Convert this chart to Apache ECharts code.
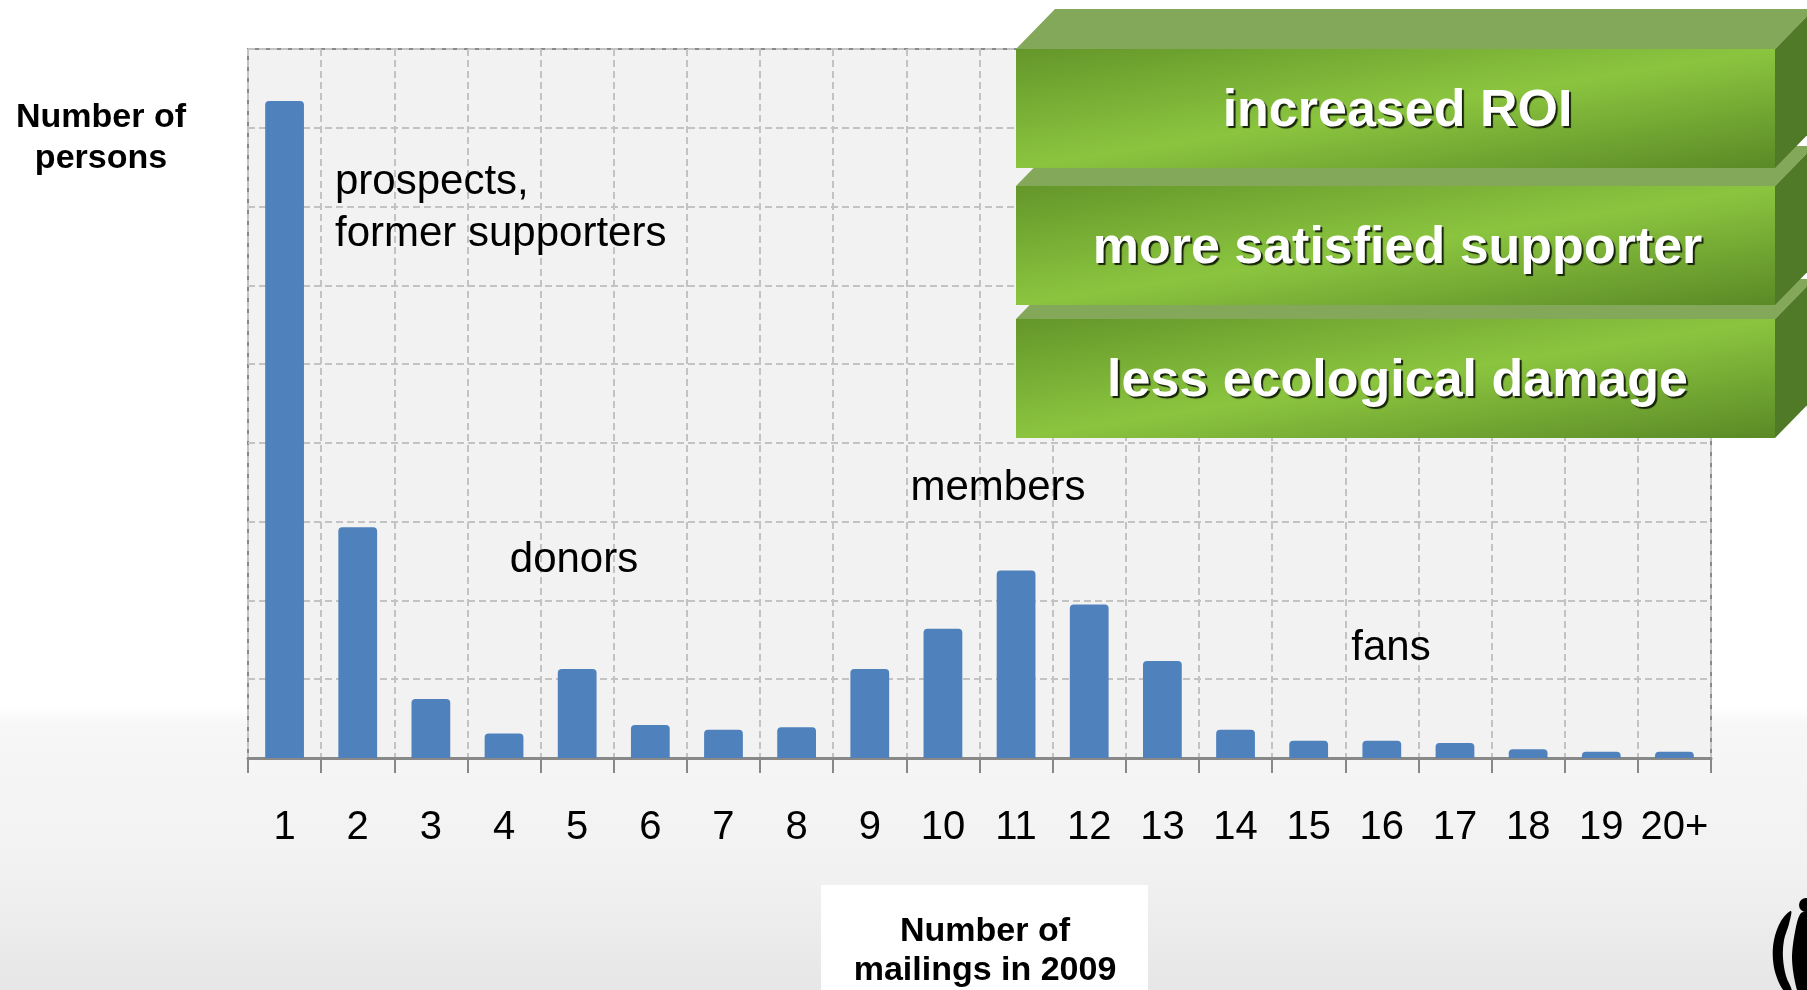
<!DOCTYPE html>
<html>
<head>
<meta charset="utf-8">
<title>Number of persons by number of mailings in 2009</title>
<script src="https://cdn.jsdelivr.net/npm/echarts@6/dist/echarts.min.js"></script>
<style>
  html, body { margin: 0; padding: 0; background: #ffffff; }
  #chart { width: 1807px; height: 990px; }
</style>
</head>
<body>
<div id="chart"></div>
<script>
// Mailings received per person in 2009 (x) and how many persons got that many (y)
const mailings = ['1', '2', '3', '4', '5', '6', '7', '8', '9', '10',
                  '11', '12', '13', '14', '15', '16', '17', '18', '19', '20+'];
const persons = [834, 293, 75, 31, 113, 42, 36, 39, 113, 164,
                 238, 195, 123, 36, 22, 22, 19, 11, 8, 8];

// Value axis: nine gridded steps, no printed numbers
const yMin = 0;
const yMax = 900;
const yStep = 100;

// Segment names written inside the plot
const segmentNames = ['prospects,\nformer supporters', 'donors', 'members', 'fans'];

// Benefits stacked in the upper right
const benefits = ['increased ROI', 'more satisfied supporter', 'less ecological damage'];

const yTitle = 'Number of\npersons';
const xTitle = 'Number of\nmailings in 2009';

const FONT = '"Liberation Sans", Arial, sans-serif';

const chart = echarts.init(document.getElementById('chart'), null, { renderer: 'canvas' });

// --- stacked 3D boxes -------------------------------------------------------
const BOX_LEFT = 1016, BOX_RIGHT = 1775, DX = 39, DY = 40;
const boxTops = [49, 186, 319];
const boxHeight = 119;

// Shading runs across the front face so that the bright band joins the
// bottom-left and top-right corners, darker toward the other two corners.
function frontShade(top) {
  const w = BOX_RIGHT - BOX_LEFT, h = boxHeight;
  const len = Math.sqrt(w * w + h * h);
  const ux = h / len, uy = w / len;
  const span = 2 * w * h / len;
  return new echarts.graphic.LinearGradient(
    BOX_LEFT, top, BOX_LEFT + ux * span, top + uy * span, [
      { offset: 0, color: '#64962a' },
      { offset: 0.5, color: '#8bc53f' },
      { offset: 1, color: '#5a8926' }
    ], true);
}

function boxElements(i) {
  const top = boxTops[i];
  const bottom = top + boxHeight;
  const z = 100 + (boxTops.length - i) * 4;
  return [
    { type: 'polygon', z: z, silent: true,
      shape: { points: [[BOX_LEFT, top], [BOX_LEFT + DX, top - DY], [BOX_RIGHT + DX, top - DY], [BOX_RIGHT, top]] },
      style: { fill: '#84a85a' } },
    { type: 'polygon', z: z + 1, silent: true,
      shape: { points: [[BOX_RIGHT, top], [BOX_RIGHT + DX, top - DY], [BOX_RIGHT + DX, bottom - DY], [BOX_RIGHT, bottom]] },
      style: { fill: '#517a28' } },
    { type: 'rect', z: z + 2, silent: true,
      shape: { x: BOX_LEFT, y: top, width: BOX_RIGHT - BOX_LEFT, height: boxHeight },
      style: { fill: frontShade(top) } },
    { type: 'text', z: z + 3, silent: true,
      x: (BOX_LEFT + BOX_RIGHT) / 2 + 2, y: top + boxHeight / 2 + 3,
      style: {
        text: benefits[i], fill: '#ffffff', font: 'bold 52px ' + FONT,
        align: 'center', verticalAlign: 'middle',
        textShadowColor: 'rgba(15,25,5,0.95)', textShadowOffsetX: 2, textShadowOffsetY: 2, textShadowBlur: 1
      } }
  ];
}

const boxes = [];
for (let i = boxTops.length - 1; i >= 0; i--) boxes.push(...boxElements(i));

// --- text placed in the plot ------------------------------------------------
const segmentSpots = [
  { x: 335, y: 208, align: 'left' },
  { x: 574, y: 560, align: 'center' },
  { x: 998, y: 488, align: 'center' },
  { x: 1391, y: 648, align: 'center' }
];
const segmentTexts = segmentNames.map((name, i) => ({
  type: 'text', z: 50, silent: true,
  x: segmentSpots[i].x, y: segmentSpots[i].y,
  style: {
    text: name, fill: '#000000', font: '42px ' + FONT, lineHeight: 52,
    align: segmentSpots[i].align, verticalAlign: 'middle'
  }
}));

// --- emblem in the lower right corner -----------------------------------------
const emblem = [
  { type: 'polygon', z: 60, silent: true,
    shape: { smooth: 0.35, points: [[1791, 911], [1781, 921], [1774, 940], [1773, 960], [1777, 978], [1785, 992],
                                    [1792, 992], [1786, 976], [1783, 958], [1784, 940], [1789, 924]] },
    style: { fill: '#000000' } },
  { type: 'polygon', z: 60, silent: true,
    shape: { smooth: 0.3, points: [[1801, 913], [1795, 932], [1792, 958], [1795, 982], [1800, 995], [1812, 995], [1812, 913]] },
    style: { fill: '#000000' } },
  { type: 'circle', z: 60, silent: true,
    shape: { cx: 1806, cy: 905, r: 7 }, style: { fill: '#000000' } }
];

const option = {
  animation: false,
  backgroundColor: new echarts.graphic.LinearGradient(0, 0, 0, 1, [
    { offset: 0, color: '#ffffff' },
    { offset: 0.715, color: '#ffffff' },
    { offset: 0.73, color: '#f7f7f7' },
    { offset: 0.885, color: '#f1f1f1' },
    { offset: 1, color: '#e6e6e6' }
  ]),
  textStyle: { fontFamily: FONT },
  grid: {
    left: 248, top: 49, width: 1463, height: 709,
    show: true, backgroundColor: '#f2f2f2', borderColor: '#8a8a8a', borderWidth: 2,
    containLabel: false
  },
  xAxis: {
    type: 'category',
    data: mailings,
    boundaryGap: true,
    axisLine: { show: true, lineStyle: { color: '#888888', width: 3 } },
    axisTick: { show: true, length: 15, alignWithLabel: false, lineStyle: { color: '#888888', width: 2 } },
    axisLabel: { color: '#000000', fontSize: 40, fontFamily: FONT, margin: 50, interval: 0 },
    splitLine: { show: true, lineStyle: { color: '#c3c3c3', width: 2, type: [7, 4] } }
  },
  yAxis: {
    type: 'value',
    min: yMin, max: yMax, interval: yStep,
    axisLine: { show: false },
    axisTick: { show: false },
    axisLabel: { show: false },
    splitLine: { show: true, lineStyle: { color: '#c3c3c3', width: 2, type: [7, 4] } }
  },
  series: [{
    type: 'bar',
    data: persons,
    barWidth: '53%',
    itemStyle: { color: '#4f81bd', borderRadius: [4, 4, 0, 0] },
    z: 1
  }],
  graphic: [
    // y axis title
    { type: 'text', silent: true, x: 101, y: 138,
      style: { text: yTitle, fill: '#000000', font: 'bold 34px ' + FONT, lineHeight: 41,
               align: 'center', verticalAlign: 'middle' } },
    // x axis title on its white panel
    { type: 'rect', silent: true, z: 5,
      shape: { x: 821, y: 885, width: 327, height: 110 }, style: { fill: '#ffffff' } },
    { type: 'text', silent: true, z: 6, x: 985, y: 951,
      style: { text: xTitle, fill: '#000000', font: 'bold 34px ' + FONT, lineHeight: 39,
               align: 'center', verticalAlign: 'middle' } },
    ...segmentTexts,
    ...boxes,
    ...emblem
  ]
};

chart.setOption(option);
</script>
</body>
</html>
